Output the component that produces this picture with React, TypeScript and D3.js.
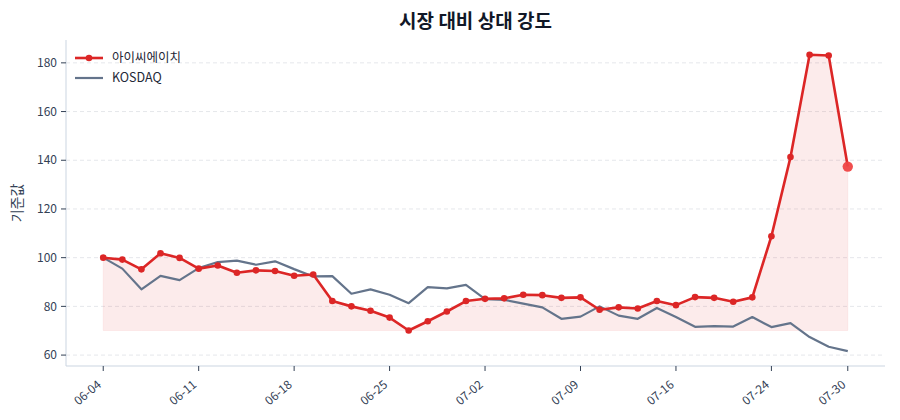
import React from "react";
import * as d3 from "d3";

const dates = [
  "06-04","06-05","06-06","06-09","06-10","06-11","06-12","06-13","06-16","06-17",
  "06-18","06-19","06-20","06-23","06-24","06-25","06-26","06-27","06-30","07-01",
  "07-02","07-03","07-04","07-07","07-08","07-09","07-10","07-11","07-14","07-15",
  "07-16","07-17","07-18","07-21","07-22","07-24","07-25","07-28","07-29","07-30",
];

const stockValues = [
  100.0, 99.2, 95.2, 101.8, 99.9, 95.5, 96.8, 93.8, 94.8, 94.5,
  92.6, 93.1, 82.2, 80.0, 78.2, 75.4, 70.1, 73.9, 77.9, 82.2,
  83.1, 83.3, 84.8, 84.6, 83.5, 83.7, 78.6, 79.6, 79.1, 82.2,
  80.5, 83.8, 83.5, 81.9, 83.7, 108.8, 141.3, 183.3, 183.0, 137.4,
];

const kosdaqValues = [
  100.0, 95.5, 87.0, 92.5, 90.8, 95.7, 98.2, 98.8, 97.1, 98.5,
  95.3, 92.3, 92.4, 85.2, 87.0, 84.8, 81.3, 87.9, 87.4, 88.8,
  83.0, 82.7, 81.1, 79.6, 74.9, 75.8, 80.0, 76.2, 74.9, 79.3,
  75.6, 71.6, 71.9, 71.7, 75.6, 71.5, 73.1, 67.4, 63.4, 61.6,
];

const yTicks = [60, 80, 100, 120, 140, 160, 180];
const xTickIdx = [0, 5, 10, 15, 20, 25, 30, 35, 39];

const stockName = "아이씨에이치";
const indexName = "KOSDAQ";
const title = "시장 대비 상대 강도";
const yLabel = "기준값";

const W = 900;
const H = 420;
const M = { left: 66, right: 15, top: 40, bottom: 54 };

const RED = "#dc2626";
const GRAY = "#64748b";
const TXT = "#334155";
const FONT = "'Noto Sans CJK KR', 'Noto Sans', sans-serif";

export default function App() {
  const n = dates.length;
  const pad = (n - 1) * 0.05;
  const x = d3.scaleLinear().domain([-pad, n - 1 + pad]).range([M.left, W - M.right]);
  const allVals = [...stockValues, ...kosdaqValues];
  const vmin = d3.min(allVals) as number;
  const vmax = d3.max(allVals) as number;
  const vp = (vmax - vmin) * 0.05;
  const y = d3.scaleLinear().domain([vmin - vp, vmax + vp]).range([H - M.bottom, M.top]);

  const line = d3.line<number>().x((_, i) => x(i)).y((d) => y(d));
  const base = d3.min(stockValues) as number;
  const area = d3.area<number>().x((_, i) => x(i)).y0(y(base)).y1((d) => y(d));

  const x0 = M.left;
  const x1 = W - M.right;
  const yB = H - M.bottom;

  return (
    <svg width={W} height={H} style={{ position: "absolute", left: 0, top: 0, background: "#fff" }} fontFamily={FONT}>
      <rect x={0} y={0} width={W} height={H} fill="#fff" />
      {/* grid */}
      {yTicks.map((t) => (
        <line key={"g" + t} x1={x0} x2={x1} y1={y(t)} y2={y(t)} stroke="#e5e7eb" strokeWidth={1} strokeDasharray="4,3" />
      ))}
      {/* fill */}
      <path d={area(stockValues) || ""} fill={RED} fillOpacity={0.09} stroke={RED} strokeOpacity={0.06} />
      {/* kosdaq */}
      <path d={line(kosdaqValues) || ""} fill="none" stroke={GRAY} strokeWidth={2.2} strokeLinejoin="round" />
      {/* stock */}
      <path d={line(stockValues) || ""} fill="none" stroke={RED} strokeWidth={2.6} strokeLinejoin="round" />
      {stockValues.slice(0, n - 1).map((v, i) => (
        <circle key={"p" + i} cx={x(i)} cy={y(v)} r={3.3} fill={RED} />
      ))}
      <circle cx={x(n - 1)} cy={y(stockValues[n - 1])} r={5.2} fill="#ef4444" fillOpacity={0.95} />
      {/* spines */}
      <line x1={x0} x2={x0} y1={M.top} y2={yB} stroke="#cbd5e1" strokeWidth={1} />
      <line x1={x0} x2={x1} y1={yB} y2={yB} stroke="#cbd5e1" strokeWidth={1} />
      {/* y ticks */}
      {yTicks.map((t) => (
        <g key={"y" + t} transform={`translate(${x0},${y(t)})`}>
          <line x1={-5} x2={0} stroke={TXT} strokeWidth={1} />
          <text x={-9} dy="0.35em" textAnchor="end" fontSize={12} fill={TXT}>{t}</text>
        </g>
      ))}
      {/* x ticks */}
      {xTickIdx.map((i) => (
        <g key={"x" + i} transform={`translate(${x(i)},${yB})`}>
          <line y1={0} y2={5} stroke={TXT} strokeWidth={1} />
          <text transform="translate(-7,13) rotate(-40)" textAnchor="end" dy="0.75em" fontSize={12} fill={TXT}>{dates[i]}</text>
        </g>
      ))}
      {/* y label */}
      <text transform={`translate(22,${(M.top + yB) / 2}) rotate(-90)`} textAnchor="middle" fontSize={14} fill={TXT}>{yLabel}</text>
      {/* title */}
      <text x={(x0 + x1) / 2} y={28} textAnchor="middle" fontSize={19} fontWeight={700} fill="#111827">{title}</text>
      {/* legend */}
      <g transform="translate(75,58)">
        <line x1={0} x2={28} y1={0} y2={0} stroke={RED} strokeWidth={2.6} />
        <circle cx={14} cy={0} r={3.3} fill={RED} />
        <text x={37} dy="0.35em" fontSize={12.5} fill="#1f2937">{stockName}</text>
        <line x1={0} x2={28} y1={20} y2={20} stroke={GRAY} strokeWidth={2.2} />
        <text x={37} y={20} dy="0.35em" fontSize={12.5} fill="#1f2937">{indexName}</text>
      </g>
    </svg>
  );
}
